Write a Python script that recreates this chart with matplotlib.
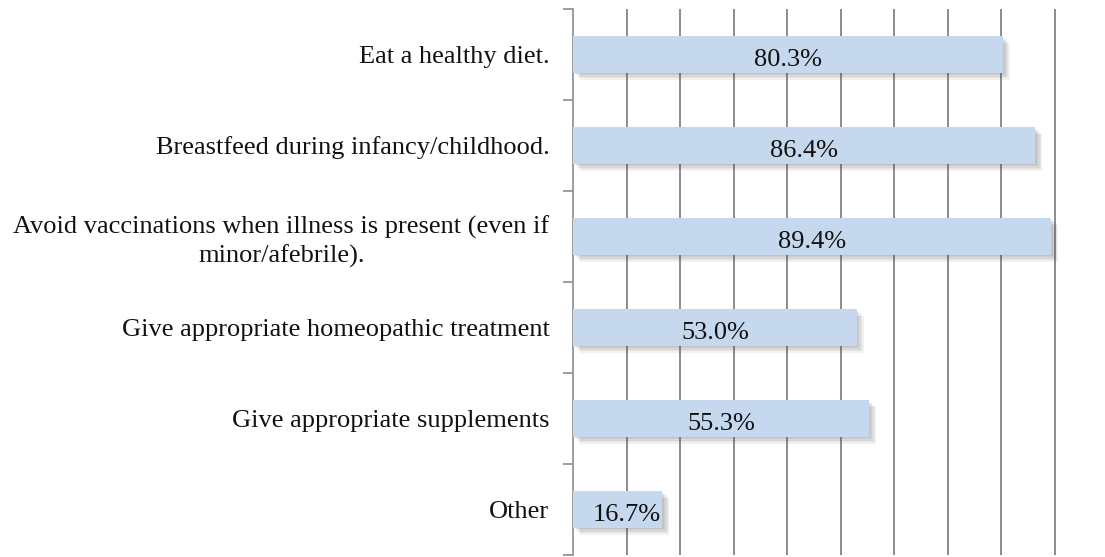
import matplotlib
matplotlib.use("Agg")
import matplotlib.pyplot as plt
import matplotlib.patheffects as pe
import numpy as np

categories = [
    "Eat a healthy diet.",
    "Breastfeed during infancy/childhood.",
    "Avoid vaccinations when illness is present (even if\nminor/afebrile).",
    "Give appropriate homeopathic treatment",
    "Give appropriate supplements",
    "Other",
]
values = [80.3, 86.4, 89.4, 53.0, 55.3, 16.7]
value_labels = ["80.3%", "86.4%", "89.4%", "53.0%", "55.3%", "16.7%"]

plt.rcParams['font.family'] = ['Liberation Serif', 'DejaVu Serif']
FS = 19

fig = plt.figure(figsize=(11.05, 5.57), dpi=100)
ax = fig.add_axes([573/1105, 2/557, 1 - 573/1105, (555-9)/557])

y = np.arange(len(categories))
bars = ax.barh(y, values, height=0.4, color='#c5d8ed', zorder=3)
shadow = [pe.SimplePatchShadow(offset=(d, -d), shadow_rgbFace='#444444', alpha=0.07) for d in (5, 4, 3, 2, 1)]
for b in bars:
    b.set_path_effects(shadow + [pe.Normal()])

for yi, v, lab in zip(y, values, value_labels):
    ax.text(max(v/2, 10.0), yi + 0.06, lab, ha='center', va='center', fontsize=FS, color='#111111', zorder=4)

ax.set_xlim(0, 99.4)
ax.set_ylim(len(categories) - 0.5, -0.5)
ax.set_xticks(np.arange(10, 100, 10))
ax.set_xticklabels([])
ax.tick_params(axis='x', length=0)
ax.grid(axis='x', color='#8c8c8c', linewidth=1.4, zorder=0)
ax.set_axisbelow(True)

ax.set_yticks(y)
ax.set_yticklabels(categories, fontsize=FS, color='#111111', linespacing=1.3)
for t in ax.get_yticklabels():
    t.set_multialignment('center')
ax.tick_params(axis='y', which='major', length=0, pad=17)
ax.set_yticks(np.arange(-0.5, len(categories), 1.0), minor=True)
ax.tick_params(axis='y', which='minor', length=7, width=1.2, color='#8c8c8c', direction='out')

for s in ['top', 'right', 'bottom']:
    ax.spines[s].set_visible(False)
ax.spines['left'].set_color('#8c8c8c')
ax.spines['left'].set_linewidth(1.2)

fig.savefig('out.png', dpi=100)
